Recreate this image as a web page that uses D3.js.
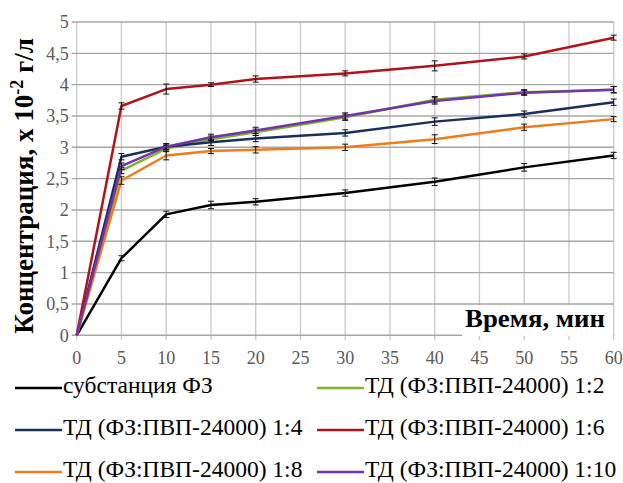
<!DOCTYPE html>
<html><head><meta charset="utf-8">
<script src="https://cdn.jsdelivr.net/npm/d3@7"></script>
<style>html,body{margin:0;padding:0;background:#fff;}svg{display:block;}</style>
</head><body>
<script>
const times = [0, 5, 10, 15, 20, 30, 40, 50, 60];
const seriesNames = ["субстанция ФЗ", "ТД (ФЗ:ПВП-24000) 1:2", "ТД (ФЗ:ПВП-24000) 1:4", "ТД (ФЗ:ПВП-24000) 1:6", "ТД (ФЗ:ПВП-24000) 1:8", "ТД (ФЗ:ПВП-24000) 1:10"];
const substance = [0, 1.23, 1.93, 2.08, 2.13, 2.27, 2.45, 2.68, 2.87];
const ratio12 = [0, 2.63, 2.98, 3.13, 3.24, 3.48, 3.76, 3.88, 3.92];
const ratio14 = [0, 2.85, 3.01, 3.08, 3.14, 3.23, 3.41, 3.53, 3.72];
const ratio16 = [0, 3.66, 3.93, 4.00, 4.09, 4.18, 4.30, 4.45, 4.75];
const ratio18 = [0, 2.47, 2.87, 2.94, 2.96, 3.00, 3.13, 3.32, 3.45];
const ratio110 = [0, 2.70, 3.01, 3.16, 3.27, 3.50, 3.74, 3.87, 3.92];
const errSubstance = [0, 0.04, 0.05, 0.06, 0.05, 0.05, 0.06, 0.06, 0.05];
const err12 = [0, 0.05, 0.05, 0.05, 0.05, 0.05, 0.05, 0.04, 0.05];
const err14 = [0, 0.05, 0.05, 0.05, 0.05, 0.05, 0.06, 0.05, 0.05];
const err16 = [0, 0.05, 0.08, 0.03, 0.05, 0.04, 0.08, 0.04, 0.04];
const err18 = [0, 0.06, 0.07, 0.04, 0.05, 0.05, 0.07, 0.05, 0.04];
const err110 = [0, 0.05, 0.04, 0.05, 0.05, 0.05, 0.05, 0.04, 0.05];
const xTicks = [0, 5, 10, 15, 20, 25, 30, 35, 40, 45, 50, 55, 60];
const yTicks = [0, 0.5, 1, 1.5, 2, 2.5, 3, 3.5, 4, 4.5, 5];
const colors = ["#000000", "#7ab52a", "#1b2f5e", "#b0141a", "#ef7b1a", "#7433a8"];

const series = [substance, ratio12, ratio14, ratio16, ratio18, ratio110].map((vals, i) => ({
  name: seriesNames[i], color: colors[i],
  pts: times.map((t, j) => ({t, v: vals[j], e: [errSubstance, err12, err14, err16, err18, err110][i][j]}))
}));

const W = 623, H = 483;
const serif = '"Liberation Serif", "Times New Roman", serif';
const svg = d3.select("body").append("svg").attr("width", W).attr("height", H);
const x = d3.scaleLinear().domain([0, 60]).range([76.7, 613.7]);
const y = d3.scaleLinear().domain([0, 5]).range([335.3, 22]);
const fmt = v => String(v).replace(".", ",");

// vertical grid
svg.append("g").selectAll("line").data(xTicks).join("line")
  .attr("x1", d => x(d)).attr("x2", d => x(d)).attr("y1", y(5)).attr("y2", y(0) + 5)
  .attr("stroke", "#cccccc").attr("stroke-width", 1.4);
// horizontal grid
svg.append("g").selectAll("line").data(yTicks).join("line")
  .attr("x1", x(0) - 5).attr("x2", x(60)).attr("y1", d => y(d)).attr("y2", d => y(d))
  .attr("stroke", "#a6a6a6").attr("stroke-width", 1.4);

// tick labels
svg.append("g").selectAll("text").data(yTicks).join("text")
  .attr("x", x(0) - 8).attr("y", d => y(d)).attr("dy", "0.35em")
  .attr("text-anchor", "end").style("font-family", serif).attr("font-size", 18)
  .attr("fill", "#595959").text(fmt);
svg.append("g").selectAll("text").data(xTicks).join("text")
  .attr("x", d => x(d)).attr("y", 364)
  .attr("text-anchor", "middle").style("font-family", serif).attr("font-size", 18)
  .attr("fill", "#595959").text(d => d);

// lines
const line = d3.line().x(d => x(d.t)).y(d => y(d.v));
series.forEach(s => {
  svg.append("path").datum(s.pts).attr("d", line).attr("fill", "none")
    .attr("stroke", s.color).attr("stroke-width", 2.5).attr("stroke-linejoin", "round");
  const eg = svg.append("g").attr("stroke", "#111").attr("stroke-width", 1);
  s.pts.filter(p => p.e > 0).forEach(p => {
    eg.append("line").attr("x1", x(p.t)).attr("x2", x(p.t)).attr("y1", y(p.v - p.e)).attr("y2", y(p.v + p.e));
    eg.append("line").attr("x1", x(p.t) - 3).attr("x2", x(p.t) + 3).attr("y1", y(p.v - p.e)).attr("y2", y(p.v - p.e));
    eg.append("line").attr("x1", x(p.t) - 3).attr("x2", x(p.t) + 3).attr("y1", y(p.v + p.e)).attr("y2", y(p.v + p.e));
  });
});

// x axis title with white box
svg.append("rect").attr("x", 462).attr("y", 305).attr("width", 151).attr("height", 31).attr("fill", "#fff");
svg.append("text").attr("x", 605).attr("y", 327).attr("text-anchor", "end")
  .style("font-family", serif).attr("font-weight", "bold").attr("font-size", 25)
  .attr("textLength", 140).attr("lengthAdjust", "spacingAndGlyphs")
  .text("Время, мин");

// y axis title
const yt = svg.append("text").attr("transform", "translate(33,186) rotate(-90)")
  .attr("text-anchor", "middle").style("font-family", serif).attr("font-weight", "bold").attr("font-size", 27);
yt.append("tspan").text("Концентрация, х 10");
yt.append("tspan").attr("dy", -10).attr("font-size", 18).text("-2");
yt.append("tspan").attr("dy", 10).text(" г/л");

// legend
const legendPos = [[15, 388], [317, 388], [15, 430], [317, 430], [15, 472], [317, 472]];
series.forEach((s, i) => {
  const [lx, ly] = legendPos[i];
  svg.append("line").attr("x1", lx).attr("x2", lx + 47).attr("y1", ly).attr("y2", ly)
    .attr("stroke", s.color).attr("stroke-width", 2.5);
  svg.append("text").attr("x", lx + 48).attr("y", ly + 5)
    .style("font-family", serif).attr("font-size", 23.5).attr("fill", "#000").text(s.name);
});
</script>
</body></html>
